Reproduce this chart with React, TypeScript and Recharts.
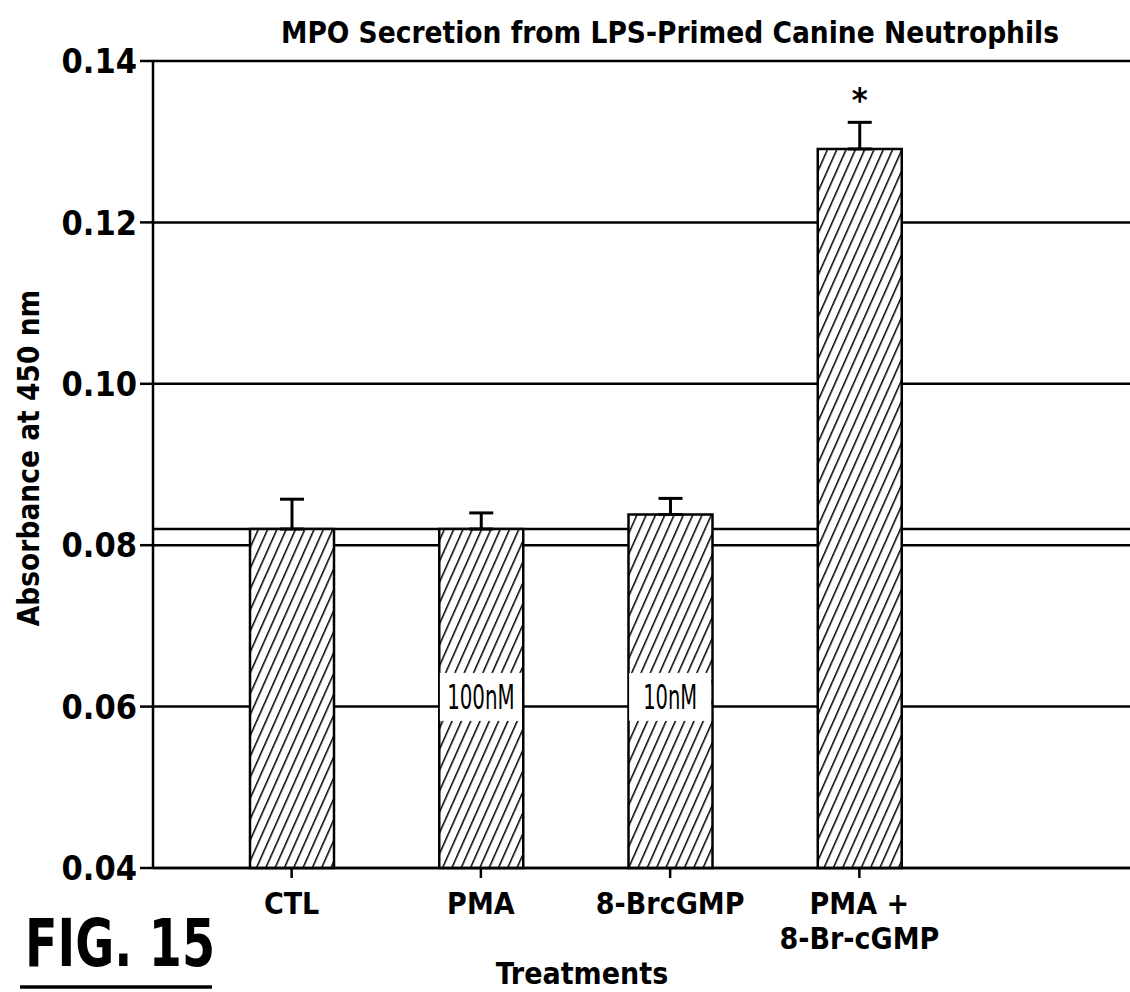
import React from "react";
import {
  Bar,
  BarChart,
  CartesianGrid,
  ErrorBar,
  LabelList,
  ReferenceDot,
  XAxis,
  YAxis,
} from "recharts";

const categories = ["CTL", "PMA", "8-BrcGMP", "PMA +\n8-Br-cGMP"];
const means = [0.082, 0.082, 0.0838, 0.1291];
const sems = [0.0037, 0.002, 0.002, 0.0033];
const doses = ["", "100nM", "10nM", ""];
const marks = ["", "", "", "*"];
const yTicks = [0.04, 0.06, 0.08, 0.1, 0.12, 0.14];
const doseLabelY = 0.0612; // where the dose tag sits inside the bar

const FONT = "'Liberation Sans Narrow', 'DejaVu Sans Condensed', sans-serif";
const INK = "#000";

const data = categories.map((name, i) => ({
  name,
  mean: means[i],
  err: [0, sems[i]], // upward whisker only
  mark: marks[i],
}));

function XTick({ x, y, payload }: any) {
  const lines = String(payload.value).split("\n");
  return (
    <g>
      {lines.map((ln, i) => (
        <text
          key={i}
          x={x}
          y={y + 36 + i * 35}
          textAnchor="middle"
          fontFamily={FONT}
          fontWeight="bold"
          fontSize={30}
          fill={INK}
        >
          {ln}
        </text>
      ))}
    </g>
  );
}

function YTick({ x, y, payload }: any) {
  return (
    <text
      x={x}
      y={y}
      dy="0.36em"
      textAnchor="end"
      fontFamily={FONT}
      fontWeight="bold"
      fontSize={34}
      fill={INK}
    >
      {Number(payload.value).toFixed(2)}
    </text>
  );
}

function DoseTag(label: string) {
  return (props: any) => {
    const { cx, cy } = props;
    return (
      <g>
        <rect x={cx - 41} y={cy - 24} width={82} height={48} fill="#fff" />
        <text
          x={cx}
          y={cy}
          dy="0.36em"
          textAnchor="middle"
          fontFamily={FONT}
          fontSize={33}
          textLength={label.length * 13.5}
          lengthAdjust="spacingAndGlyphs"
          fill={INK}
        >
          {label}
        </text>
      </g>
    );
  };
}

function StarLabel(props: any) {
  const { x, y, width, value } = props;
  if (!value) return null;
  return (
    <text
      x={x + width / 2}
      y={y - 37}
      textAnchor="middle"
      fontFamily={FONT}
      fontWeight="bold"
      fontSize={34}
      fill={INK}
    >
      {value}
    </text>
  );
}

export default function App() {
  return (
    <div style={{ position: "absolute", left: 0, top: 0, width: 1130, height: 992, background: "#fff" }}>
      <BarChart
        width={1130}
        height={992}
        data={data}
        margin={{ top: 61, right: 0, bottom: 0, left: 0 }}
        barSize={84}
      >
        <defs>
          <pattern
            id="hatch"
            patternUnits="userSpaceOnUse"
            width={8.5}
            height={8.5}
            patternTransform="rotate(24)"
          >
            <rect width={8.5} height={8.5} fill="#fff" />
            <line x1={0} y1={0} x2={0} y2={8.5} stroke={INK} strokeWidth={3} />
          </pattern>
        </defs>
        {/* tick rows */}
        <CartesianGrid vertical={false} stroke={INK} strokeWidth={2.5} />
        {/* control level line */}
        <CartesianGrid vertical={false} stroke={INK} strokeWidth={2.5} horizontalValues={[means[0]]} />
        <XAxis
          dataKey="name"
          interval={0}
          padding={{ left: 44, right: 176 }}
          height={124}
          axisLine={{ stroke: INK, strokeWidth: 2.5 }}
          tickLine={{ stroke: INK, strokeWidth: 2.5 }}
          tickSize={10}
          tickMargin={0}
          tick={<XTick />}
        />
        <YAxis
          domain={[0.04, 0.14]}
          ticks={yTicks}
          width={153}
          axisLine={{ stroke: INK, strokeWidth: 2.5 }}
          tickLine={{ stroke: INK, strokeWidth: 2.5 }}
          tickSize={13}
          tickMargin={3}
          tick={<YTick />}
        />
        <Bar dataKey="mean" fill="url(#hatch)" stroke={INK} strokeWidth={2.5} isAnimationActive={false}>
          <ErrorBar dataKey="err" direction="y" width={12} stroke={INK} strokeWidth={3} isAnimationActive={false} />
          <LabelList dataKey="mark" content={<StarLabel />} />
        </Bar>
        {doses.map((d, i) =>
          d ? (
            <ReferenceDot
              key={d}
              x={categories[i]}
              y={doseLabelY}
              r={0}
              shape={DoseTag(d)}
              ifOverflow="visible"
            />
          ) : null
        )}
      </BarChart>
      <svg
        width={1130}
        height={992}
        style={{ position: "absolute", left: 0, top: 0, pointerEvents: "none" }}
      >
        <text x={670} y={43} textAnchor="middle" fontFamily={FONT} fontWeight="bold" fontSize={29.5} fill={INK}>
          MPO Secretion from LPS-Primed Canine Neutrophils
        </text>
        <text
          x={39}
          y={458}
          transform="rotate(-90, 39, 458)"
          textAnchor="middle"
          fontFamily={FONT}
          fontWeight="bold"
          fontSize={29.5}
          fill={INK}
        >
          Absorbance at 450 nm
        </text>
        <text x={582} y={984} textAnchor="middle" fontFamily={FONT} fontWeight="bold" fontSize={30} fill={INK}>
          Treatments
        </text>
        <text
          x={25}
          y={966}
          fontFamily={FONT}
          fontWeight="bold"
          fontSize={66}
          textLength={190}
          lengthAdjust="spacingAndGlyphs"
          fill={INK}
        >
          FIG. 15
        </text>
        <line x1={20} y1={987} x2={212} y2={987} stroke={INK} strokeWidth={3.5} />
      </svg>
    </div>
  );
}
